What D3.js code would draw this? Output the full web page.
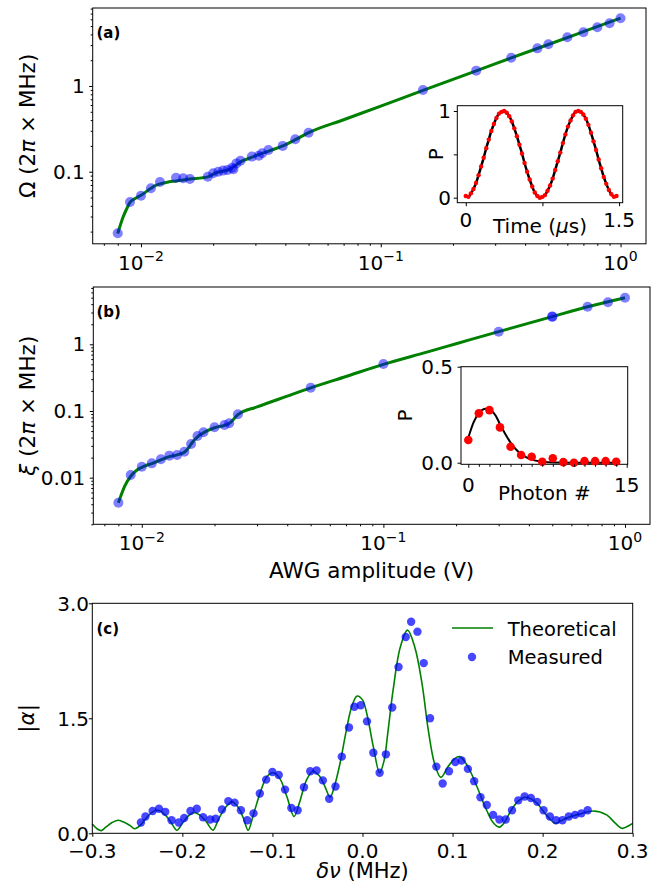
<!DOCTYPE html>
<html>
<head>
<meta charset="utf-8">
<script src="https://cdn.jsdelivr.net/npm/d3@7"></script>
<style>
  body { margin: 0; background: #fff; }
  svg text { font-family: 'DejaVu Sans', sans-serif; fill: #000; }
</style>
</head>
<body>
<div id="chart"></div>
<script>
// (a) Rabi frequency vs AWG amplitude
var awgA = [0.008, 0.009, 0.010, 0.011, 0.012, 0.014, 0.015, 0.016, 0.019, 0.020, 0.021, 0.022, 0.023, 0.024, 0.0243, 0.025, 0.026, 0.029, 0.031, 0.032, 0.034, 0.039, 0.044, 0.050, 0.15, 0.25, 0.35, 0.45, 0.50, 0.60, 0.70, 0.80, 0.90, 1.00]
var omegaA = [0.0191, 0.0443, 0.0525, 0.064, 0.0758, 0.0851, 0.0838, 0.0822, 0.0874, 0.0958, 0.100, 0.103, 0.105, 0.111, 0.107, 0.125, 0.134, 0.150, 0.154, 0.164, 0.179, 0.200, 0.239, 0.285, 0.898, 1.51, 2.14, 2.75, 3.07, 3.70, 4.24, 4.84, 5.39, 6.17]
var fitAx = [0.008, 0.0084, 0.0088, 0.009, 0.0095, 0.010, 0.011, 0.0115, 0.012, 0.013, 0.014, 0.016, 0.019, 0.0205, 0.0235, 0.026, 0.0295, 0.0345, 0.039, 0.0445, 0.050, 0.070, 0.10, 0.15, 0.25, 0.35, 0.50, 0.70, 1.00]
var fitAy = [0.019, 0.029, 0.039, 0.044, 0.049, 0.053, 0.064, 0.069, 0.072, 0.076, 0.078, 0.082, 0.087, 0.097, 0.107, 0.130, 0.150, 0.176, 0.200, 0.240, 0.285, 0.404, 0.581, 0.890, 1.50, 2.13, 3.05, 4.30, 6.20]

// (a) inset: Rabi oscillation
var rabiT = [0, 0.025, 0.05, 0.075, 0.1, 0.125, 0.15, 0.175, 0.2, 0.225, 0.25, 0.275, 0.3, 0.325, 0.35, 0.375, 0.4, 0.425, 0.45, 0.475, 0.5, 0.525, 0.55, 0.575, 0.6, 0.625, 0.65, 0.675, 0.7, 0.725, 0.75, 0.775, 0.8, 0.825, 0.85, 0.875, 0.9, 0.925, 0.95, 0.975, 1.0, 1.025, 1.05, 1.075, 1.1, 1.125, 1.15, 1.175, 1.2, 1.225, 1.25, 1.275, 1.3, 1.325, 1.35, 1.375, 1.4, 1.425, 1.45, 1.475]
var rabiP = [0.02, 0.01, 0.05, 0.10, 0.17, 0.26, 0.36, 0.46, 0.57, 0.67, 0.77, 0.85, 0.92, 0.97, 0.99, 1.00, 0.98, 0.94, 0.88, 0.80, 0.71, 0.61, 0.51, 0.40, 0.30, 0.21, 0.13, 0.06, 0.02, 0.00, 0.01, 0.03, 0.08, 0.14, 0.22, 0.32, 0.42, 0.52, 0.63, 0.73, 0.82, 0.89, 0.95, 0.99, 1.00, 0.99, 0.96, 0.91, 0.84, 0.75, 0.65, 0.55, 0.44, 0.34, 0.24, 0.16, 0.09, 0.04, 0.01, 0.02]

// (b) displacement rate vs AWG amplitude
var awgB = [0.008, 0.009, 0.010, 0.011, 0.012, 0.013, 0.014, 0.015, 0.016, 0.017, 0.018, 0.020, 0.022, 0.023, 0.025, 0.050, 0.10, 0.30, 0.50, 0.50, 0.70, 0.85, 1.00]
var xiB = [0.0042, 0.0110, 0.0146, 0.0164, 0.0189, 0.0214, 0.0219, 0.0245, 0.0320, 0.0422, 0.0479, 0.0569, 0.0617, 0.0654, 0.0892, 0.2235, 0.507, 1.545, 2.58, 2.62, 3.66, 4.26, 5.00]
var fitBx = [0.008, 0.0085, 0.009, 0.0095, 0.010, 0.011, 0.012, 0.013, 0.014, 0.015, 0.0155, 0.016, 0.017, 0.018, 0.020, 0.022, 0.023, 0.025, 0.030, 0.040, 0.050, 0.070, 0.10, 0.15, 0.20, 0.30, 0.50, 0.70, 1.00]
var fitBy = [0.0042, 0.0075, 0.0105, 0.0128, 0.0143, 0.0163, 0.0185, 0.0207, 0.0220, 0.0240, 0.0270, 0.0320, 0.0410, 0.0470, 0.0560, 0.0610, 0.0650, 0.0880, 0.1150, 0.167, 0.222, 0.329, 0.50, 0.758, 1.02, 1.55, 2.60, 3.65, 5.00]

// (b) inset: photon number distribution
var photonN = [0, 1, 2, 3, 4, 5, 6, 7, 8, 9, 10, 11, 12, 13, 14]
var photonP = [0.118, 0.257, 0.274, 0.184, 0.083, 0.040, 0.031, 0.005, 0.023, 0.003, 0.000, 0.008, 0.008, 0.008, 0.005]
var photonFitN = [0, 0.5, 1, 1.5, 1.8, 2.2, 2.6, 3, 3.5, 4, 4.5, 5, 5.5, 6, 7, 8, 10, 12, 14]
var photonFitP = [0.13, 0.21, 0.26, 0.28, 0.282, 0.27, 0.245, 0.20, 0.15, 0.105, 0.07, 0.045, 0.028, 0.016, 0.005, 0.001, 0, 0, 0]

// (c) |alpha| vs detuning
var detuning = [-0.246, -0.241, -0.233, -0.226, -0.219, -0.212, -0.204, -0.198, -0.191, -0.184, -0.177, -0.169, -0.163, -0.156, -0.149, -0.142, -0.135, -0.128, -0.121, -0.114, -0.107, -0.100, -0.093, -0.086, -0.079, -0.072, -0.065, -0.058, -0.051, -0.044, -0.037, -0.030, -0.023, -0.015, -0.009, -0.002, 0.005, 0.012, 0.019, 0.026, 0.033, 0.040, 0.048, 0.054, 0.061, 0.068, 0.075, 0.082, 0.089, 0.096, 0.103, 0.110, 0.117, 0.124, 0.131, 0.138, 0.145, 0.152, 0.159, 0.166, 0.173, 0.180, 0.187, 0.194, 0.201, 0.208, 0.215, 0.222, 0.229, 0.236, 0.243, 0.250]
var alphaMeas = [0.14, 0.22, 0.29, 0.32, 0.28, 0.17, 0.14, 0.20, 0.29, 0.32, 0.21, 0.18, 0.19, 0.31, 0.42, 0.40, 0.30, 0.17, 0.26, 0.52, 0.70, 0.80, 0.76, 0.57, 0.33, 0.30, 0.60, 0.81, 0.82, 0.69, 0.45, 0.61, 1.00, 1.38, 1.65, 1.67, 1.46, 1.05, 0.79, 1.03, 1.64, 2.17, 2.56, 2.76, 2.63, 2.22, 1.50, 0.87, 0.65, 0.81, 0.93, 0.95, 0.84, 0.68, 0.47, 0.37, 0.24, 0.18, 0.18, 0.30, 0.43, 0.48, 0.46, 0.41, 0.30, 0.22, 0.17, 0.17, 0.22, 0.24, 0.26, 0.30]
var theoryDet = [-0.300, -0.295, -0.290, -0.285, -0.278, -0.271, -0.264, -0.258, -0.253, -0.247, -0.240, -0.233, -0.227, -0.220, -0.213, -0.206, -0.200, -0.194, -0.188, -0.181, -0.174, -0.166, -0.160, -0.152, -0.145, -0.138, -0.132, -0.127, -0.121, -0.113, -0.106, -0.099, -0.092, -0.084, -0.076, -0.070, -0.062, -0.055, -0.048, -0.042, -0.036, -0.031, -0.025, -0.018, -0.012, -0.006, 0.000, 0.005, 0.012, 0.019, 0.024, 0.028, 0.034, 0.042, 0.050, 0.058, 0.066, 0.073, 0.080, 0.087, 0.095, 0.102, 0.108, 0.117, 0.127, 0.136, 0.145, 0.152, 0.158, 0.165, 0.172, 0.180, 0.187, 0.194, 0.204, 0.214, 0.220, 0.227, 0.241, 0.256, 0.271, 0.280, 0.288, 0.294, 0.300]
var theoryAlpha = [0.12, 0.06, 0.035, 0.08, 0.14, 0.17, 0.14, 0.10, 0.06, 0.10, 0.20, 0.28, 0.30, 0.25, 0.15, 0.04, 0.13, 0.22, 0.27, 0.24, 0.16, 0.04, 0.18, 0.34, 0.41, 0.34, 0.19, 0.04, 0.25, 0.55, 0.74, 0.79, 0.72, 0.48, 0.22, 0.40, 0.70, 0.81, 0.75, 0.62, 0.47, 0.62, 0.91, 1.34, 1.65, 1.79, 1.74, 1.55, 1.13, 0.79, 0.95, 1.30, 1.87, 2.43, 2.65, 2.43, 1.96, 1.35, 0.91, 0.73, 0.87, 0.97, 1.00, 0.87, 0.61, 0.35, 0.14, 0.08, 0.15, 0.30, 0.41, 0.47, 0.45, 0.39, 0.24, 0.13, 0.16, 0.20, 0.25, 0.29, 0.24, 0.14, 0.065, 0.09, 0.13]

// Tick values and labels
var logMajorX = [0.01, 0.1, 1]
var logMinorX = [0.007, 0.008, 0.009, 0.02, 0.03, 0.04, 0.05, 0.06, 0.07, 0.08, 0.09, 0.2, 0.3, 0.4, 0.5, 0.6, 0.7, 0.8, 0.9]
var logExpX = [-2, -1, 0]
var majorYA = [0.1, 1]
var labelYA = ['0.1', '1']
var minorYA = [0.02, 0.03, 0.04, 0.05, 0.06, 0.07, 0.08, 0.09, 0.2, 0.3, 0.4, 0.5, 0.6, 0.7, 0.8, 0.9, 2, 3, 4, 5, 6, 7, 8]
var majorYB = [0.01, 0.1, 1]
var labelYB = ['0.01', '0.1', '1']
var minorYB = [0.002, 0.003, 0.004, 0.005, 0.006, 0.007, 0.008, 0.009, 0.02, 0.03, 0.04, 0.05, 0.06, 0.07, 0.08, 0.09, 0.2, 0.3, 0.4, 0.5, 0.6, 0.7, 0.8, 0.9, 2, 3, 4, 5, 6, 7]
var ticksC_x = [-0.3, -0.2, -0.1, 0.0, 0.1, 0.2, 0.3]
var labelsC_x = ['\u22120.3', '\u22120.2', '\u22120.1', '0.0', '0.1', '0.2', '0.3']
var ticksC_y = [0, 1.5, 3]
var labelsC_y = ['0.0', '1.5', '3.0']

var svg = d3.select('#chart').append('svg')
  .attr('width', 664)
  .attr('height', 882)

// Scales
var xA = d3.scaleLog().domain([0.00629, 1.277]).range([92.7, 646])
var yA = d3.scaleLog().domain([0.01441, 8.13]).range([243.8, 8])
var xB = d3.scaleLog().domain([0.00630, 1.269]).range([93.3, 650])
var yB = d3.scaleLog().domain([0.002, 7.23]).range([524.3, 287])
var xIa = d3.scaleLinear().domain([-0.0831, 1.5356]).range([457.3, 622.7])
var yIa = d3.scaleLinear().domain([-0.0577, 1.0611]).range([202.7, 105.7])
var xIb = d3.scaleLinear().domain([-0.69, 15.09]).range([461, 627.7])
var yIb = d3.scaleLinear().domain([-0.0083, 0.5]).range([464.3, 366.7])
var xC = d3.scaleLinear().domain([-0.3, 0.3]).range([92.3, 632.7])
var yC = d3.scaleLinear().domain([0, 3]).range([833.3, 603.3])

function frame(x, y, fill) {
  svg.append('rect')
    .attr('x', x.range()[0])
    .attr('y', y.range()[1])
    .attr('width', x.range()[1] - x.range()[0])
    .attr('height', y.range()[0] - y.range()[1])
    .attr('fill', fill || 'none')
    .attr('stroke', '#000')
    .attr('stroke-width', 1)
}

function ticksX(x, y0, vals, len) {
  var g = svg.append('g')
    .attr('transform', 'translate(0,' + y0 + ')')
    .call(d3.axisBottom(x).tickValues(vals).tickSize(len).tickFormat(''))
  g.select('.domain').remove()
  g.selectAll('line').attr('stroke', '#000')
}

function ticksY(y, x0, vals, len) {
  var g = svg.append('g')
    .attr('transform', 'translate(' + x0 + ',0)')
    .call(d3.axisLeft(y).tickValues(vals).tickSize(len).tickFormat(''))
  g.select('.domain').remove()
  g.selectAll('line').attr('stroke', '#000')
}

function labelsX(x, y0, vals, texts, size) {
  svg.append('g').selectAll('text')
    .data(vals)
    .enter().append('text')
    .attr('x', function (d) { return x(d) })
    .attr('y', y0)
    .attr('text-anchor', 'middle')
    .attr('font-size', size)
    .text(function (d, i) { return texts[i] })
}

function labelsY(y, x0, vals, texts, size) {
  svg.append('g').selectAll('text')
    .data(vals)
    .enter().append('text')
    .attr('x', x0)
    .attr('y', function (d) { return y(d) })
    .attr('dy', '0.36em')
    .attr('text-anchor', 'end')
    .attr('font-size', size)
    .text(function (d, i) { return texts[i] })
}

function powerLabels(x, y0) {
  var t = svg.append('g').selectAll('text')
    .data(logExpX)
    .enter().append('text')
    .attr('x', function (d) { return x(Math.pow(10, d)) })
    .attr('y', y0)
    .attr('text-anchor', 'middle')
    .attr('font-size', 20)
  t.append('tspan').text('10')
  t.append('tspan')
    .attr('dy', -8.5)
    .attr('font-size', 14)
    .text(function (d) { return d < 0 ? '\u2212' + (-d) : String(d) })
}

// parts: [text, italic?]
function richText(x, y, parts, size, rotate) {
  var t = svg.append('text')
    .attr('text-anchor', 'middle')
    .attr('font-size', size)
    .attr('transform', 'translate(' + x + ',' + y + ')' + (rotate ? ' rotate(-90)' : ''))
  parts.forEach(function (p) {
    t.append('tspan')
      .attr('font-style', p[1] ? 'italic' : 'normal')
      .text(p[0])
  })
}

function panelTag(x, y, s) {
  svg.append('text')
    .attr('x', x).attr('y', y)
    .attr('font-size', 15)
    .attr('font-weight', 'bold')
    .text(s)
}

function logPanel(x, y, xs, ys, fx, fy, majY, labY, minY) {
  var line = d3.line()
    .x(function (d) { return x(d[0]) })
    .y(function (d) { return y(d[1]) })
    .curve(d3.curveMonotoneX)
  svg.append('path')
    .attr('d', line(fx.map(function (v, i) { return [v, fy[i]] })))
    .attr('fill', 'none')
    .attr('stroke', 'green')
    .attr('stroke-width', 3)
  svg.append('g').selectAll('circle')
    .data(xs)
    .enter().append('circle')
    .attr('cx', function (d) { return x(d) })
    .attr('cy', function (d, i) { return y(ys[i]) })
    .attr('r', 5)
    .attr('fill', 'blue')
    .attr('fill-opacity', 0.5)
  var y0 = y.range()[0], x0 = x.range()[0]
  ticksX(x, y0, logMinorX, 2)
  ticksX(x, y0, logMajorX, 3.5)
  ticksY(y, x0, minY, 2)
  ticksY(y, x0, majY, 3.5)
  powerLabels(x, y0 + 25.7)
  labelsY(y, x0 - 8, majY, labY, 20)
  frame(x, y)
}

// Panel (a)
logPanel(xA, yA, awgA, omegaA, fitAx, fitAy, majorYA, labelYA, minorYA)
panelTag(96.5, 38, '(a)')
richText(35, 125.9, [['\u03a9 (2', false], ['\u03c0', true], [' \u00d7 MHz)', false]], 21.5, true)

// Inset (a)
frame(xIa, yIa, '#fff')
svg.append('path')
  .attr('d', d3.line()
    .x(function (d, i) { return xIa(rabiT[i]) })
    .y(function (d) { return yIa(d) })
    .curve(d3.curveCatmullRom)(rabiP))
  .attr('fill', 'none')
  .attr('stroke', '#000')
  .attr('stroke-width', 2.5)
svg.append('g').selectAll('circle')
  .data(rabiP)
  .enter().append('circle')
  .attr('cx', function (d, i) { return xIa(rabiT[i]) })
  .attr('cy', function (d) { return yIa(d) })
  .attr('r', 2.2)
  .attr('fill', 'red')
ticksX(xIa, 202.7, [0, 0.75, 1.5], 3.5)
ticksY(yIa, 457.3, [0, 0.5, 1], 3.5)
labelsX(xIa, 226.7, [0, 1.5], ['0', '1.5'], 20)
labelsY(yIa, 451, [0, 1], ['0', '1'], 20)
richText(540, 233.3, [['Time (', false], ['\u03bc', true], ['s)', false]], 20)
richText(443.3, 154.2, [['P', false]], 20, true)

// Panel (b)
logPanel(xB, yB, awgB, xiB, fitBx, fitBy, majorYB, labelYB, minorYB)
panelTag(96.5, 317, '(b)')
richText(35, 405.7, [['\u03be', true], [' (2', false], ['\u03c0', true], [' \u00d7 MHz)', false]], 21.5, true)
richText(371.6, 578, [['AWG amplitude (V)', false]], 21.5)

// Inset (b)
frame(xIb, yIb, '#fff')
svg.append('path')
  .attr('d', d3.line()
    .x(function (d, i) { return xIb(photonFitN[i]) })
    .y(function (d) { return yIb(d) })
    .curve(d3.curveMonotoneX)(photonFitP))
  .attr('fill', 'none')
  .attr('stroke', '#000')
  .attr('stroke-width', 2)
svg.append('g').selectAll('circle')
  .data(photonP)
  .enter().append('circle')
  .attr('cx', function (d, i) { return xIb(photonN[i]) })
  .attr('cy', function (d) { return yIb(d) })
  .attr('r', 4.3)
  .attr('fill', 'red')
ticksX(xIb, 464.3, photonN.slice(1), 2.5)
ticksX(xIb, 464.3, [0, 15], 3.5)
ticksY(yIb, 461, [0, 0.5], 3.5)
labelsX(xIb, 491.7, [0, 15], ['0', '15'], 20)
labelsY(yIb, 453, [0, 0.5], ['0.0', '0.5'], 20)
richText(544.3, 500, [['Photon #', false]], 20)
richText(411.7, 415.5, [['P', false]], 20, true)

// Panel (c)
svg.append('path')
  .attr('d', d3.line()
    .x(function (d, i) { return xC(theoryDet[i]) })
    .y(function (d) { return yC(d) })
    .curve(d3.curveCatmullRom)(theoryAlpha))
  .attr('fill', 'none')
  .attr('stroke', 'green')
  .attr('stroke-width', 1.6)
svg.append('g').selectAll('circle')
  .data(alphaMeas)
  .enter().append('circle')
  .attr('cx', function (d, i) { return xC(detuning[i]) })
  .attr('cy', function (d) { return yC(d) })
  .attr('r', 4.2)
  .attr('fill', 'blue')
  .attr('fill-opacity', 0.72)
ticksX(xC, 833.3, ticksC_x, 3.5)
ticksY(yC, 92.3, ticksC_y, 3.5)
labelsX(xC, 857.5, ticksC_x, labelsC_x, 20)
labelsY(yC, 89, ticksC_y, labelsC_y, 20)
frame(xC, yC)
panelTag(96.5, 634, '(c)')
richText(34, 718.3, [['|', false], ['\u03b1', true], ['|', false]], 21.5, true)
richText(362.5, 878, [['\u03b4\u03bd', true], [' (MHz)', false]], 21)

// Legend
svg.append('line')
  .attr('x1', 452).attr('x2', 493)
  .attr('y1', 628).attr('y2', 628)
  .attr('stroke', 'green')
  .attr('stroke-width', 1.6)
svg.append('circle')
  .attr('cx', 472).attr('cy', 657)
  .attr('r', 4.2)
  .attr('fill', 'blue')
  .attr('fill-opacity', 0.72)
svg.append('text').attr('x', 507.7).attr('y', 635.5).attr('font-size', 19.5).text('Theoretical')
svg.append('text').attr('x', 507.7).attr('y', 664).attr('font-size', 19.5).text('Measured')
</script>
</body>
</html>
